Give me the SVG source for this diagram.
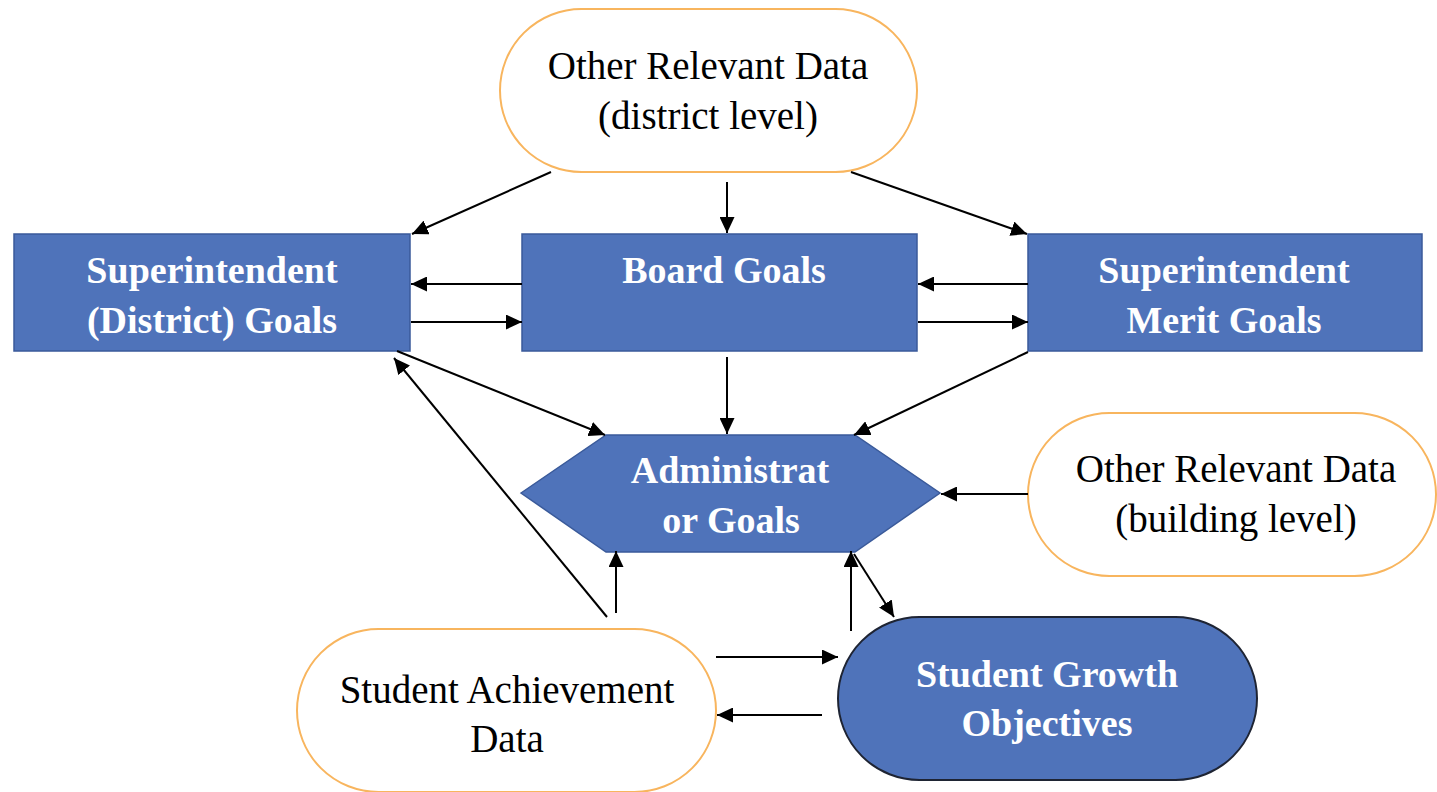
<svg xmlns="http://www.w3.org/2000/svg" width="1437" height="792" viewBox="0 0 1437 792">
<defs>
<style>
.data{fill:#FFFFFF;stroke:#F8B55E;stroke-width:2}
.goal{fill:#4F73BA;stroke:#3A5A9A;stroke-width:1.5}
.sgo{fill:#4F73BA;stroke:#1E2433;stroke-width:2}
.t{font-family:"Liberation Serif","Times New Roman","DejaVu Serif",serif;font-size:39px;text-anchor:middle;fill:#000}
.b{font-family:"Liberation Serif","Times New Roman","DejaVu Serif",serif;font-size:38px;font-weight:bold;text-anchor:middle;fill:#FFFFFF}
.c line{stroke:#000;stroke-width:2;marker-end:url(#ah)}
</style>
<marker id="ah" markerUnits="userSpaceOnUse" markerWidth="17" markerHeight="15" refX="16" refY="7.5" orient="auto">
<path d="M0,0 L16,7.5 L0,15 Z" fill="#000"/>
</marker>
</defs>
<rect width="1437" height="792" fill="#FFFFFF"/>
<g id="district-data">
<rect class="data" x="500" y="9" width="417" height="163" rx="81.5"/>
<text class="t" x="708" y="79">Other Relevant Data</text>
<text class="t" x="708" y="129">(district level)</text>
</g>
<g id="superintendent-district">
<rect class="goal" x="14" y="234" width="396" height="117"/>
<text class="b" x="212" y="283">Superintendent</text>
<text class="b" x="212" y="333">(District) Goals</text>
</g>
<g id="board-goals">
<rect class="goal" x="522" y="234" width="395" height="117"/>
<text class="b" x="724" y="283">Board Goals</text>
</g>
<g id="superintendent-merit">
<rect class="goal" x="1028" y="234" width="394" height="117"/>
<text class="b" x="1224" y="283">Superintendent</text>
<text class="b" x="1224" y="333">Merit Goals</text>
</g>
<g id="administrator-goals">
<polygon class="goal" points="521,493 606,435 855,435 940,493 855,552 606,552"/>
<text class="b" x="730" y="483">Administrat</text>
<text class="b" x="731" y="533">or Goals</text>
</g>
<g id="building-data">
<rect class="data" x="1028" y="413" width="408" height="163" rx="81.5"/>
<text class="t" x="1236" y="482">Other Relevant Data</text>
<text class="t" x="1236" y="532">(building level)</text>
</g>
<g id="student-achievement">
<rect class="data" x="297" y="629" width="419" height="163" rx="81.5"/>
<text class="t" x="507" y="703">Student Achievement</text>
<text class="t" x="507" y="752">Data</text>
</g>
<g id="student-growth">
<rect class="sgo" x="838" y="617" width="419" height="163" rx="81.5"/>
<text class="b" x="1047" y="687">Student Growth</text>
<text class="b" x="1047" y="736">Objectives</text>
</g>
<g id="connectors" class="c">
<line x1="551" y1="172" x2="412" y2="234"/>
<line x1="727" y1="182" x2="727" y2="233"/>
<line x1="851" y1="172" x2="1027" y2="234"/>
<line x1="522" y1="284" x2="411" y2="284"/>
<line x1="411" y1="322" x2="522" y2="322"/>
<line x1="1028" y1="284" x2="918" y2="284"/>
<line x1="918" y1="322" x2="1028" y2="322"/>
<line x1="397" y1="351" x2="605" y2="435"/>
<line x1="727" y1="357" x2="727" y2="434"/>
<line x1="1028" y1="352" x2="854" y2="435"/>
<line x1="1028" y1="494" x2="941" y2="494"/>
<line x1="607" y1="617" x2="394" y2="358"/>
<line x1="616" y1="613" x2="616" y2="551"/>
<line x1="851" y1="631" x2="851" y2="551"/>
<line x1="854" y1="554" x2="894" y2="617"/>
<line x1="716" y1="657" x2="838" y2="657"/>
<line x1="822" y1="715" x2="717" y2="715"/>
</g>
</svg>
